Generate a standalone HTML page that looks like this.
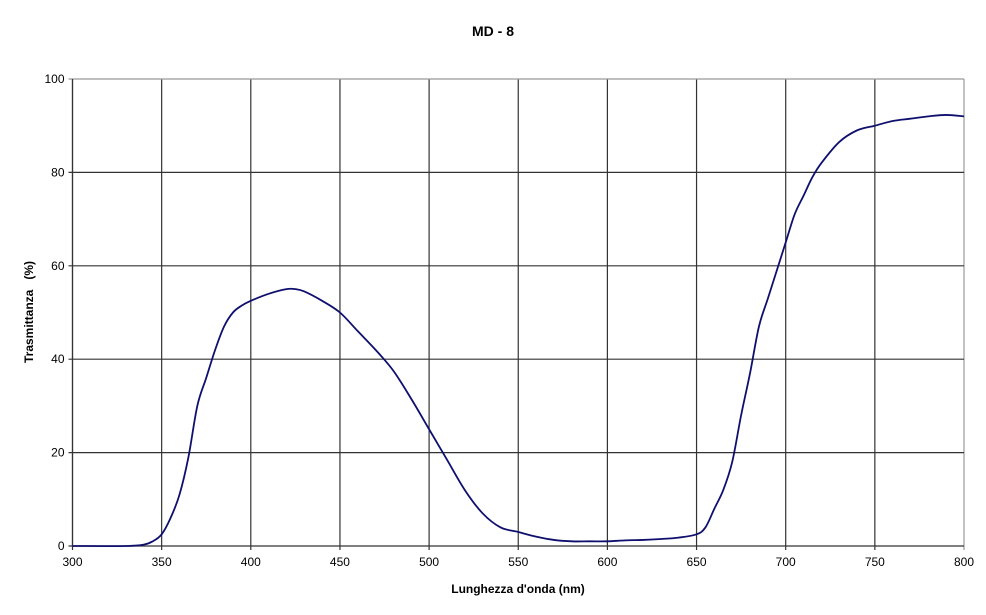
<!DOCTYPE html>
<html><head><meta charset="utf-8"><style>
body{margin:0;background:#fff}
svg{display:block;font-family:"Liberation Sans",sans-serif}
</style></head><body>
<svg width="986" height="615">
<text x="493" y="36" text-anchor="middle" font-size="14" font-weight="bold">MD - 8</text>
<g id="grid"></g>
<g id="ticks" font-size="12"></g>
<path id="line" fill="none" stroke="#0f0f6e" stroke-width="1.8"/>
<text x="518" y="593" text-anchor="middle" font-size="12" font-weight="bold">Lunghezza d'onda   (nm)</text>
<text transform="translate(33,312) rotate(-90)" text-anchor="middle" font-size="12" font-weight="bold" xml:space="preserve">Trasmittanza   (%)</text>
</svg>
<script>
const xTicks=[300,350,400,450,500,550,600,650,700,750,800];
const yTicks=[0,20,40,60,80,100];
const wavelengths=[300,330,340,345,350,355,360,365,370,375,380,385,390,395,400,410,420,425,430,440,450,460,470,480,490,500,510,520,530,540,550,560,570,580,590,600,610,620,630,640,650,655,660,665,670,675,680,685,690,695,700,705,710,715,720,730,740,750,760,770,780,790,800];
const transmittance=[0,0,0.3,1,2.5,6,11,19,30,36,42,47,50,51.5,52.5,54,55,55,54.5,52.5,50,46,42,37.5,31.5,25,18.5,12,7,4,3,2,1.3,1,1,1,1.2,1.3,1.5,1.8,2.5,4,8,12,18,28,37,47,53,59,65,71,75,79,82,86.5,89,90,91,91.5,92,92.3,92];
const L=72.5,R=964,T=79,B=546;
const xs=v=>L+(v-300)/500*(R-L), ys=v=>B-v/100*(B-T);
const ns="http://www.w3.org/2000/svg";
const g=document.getElementById('grid'),tk=document.getElementById('ticks');
function mk(p,tag,a){const e=document.createElementNS(ns,tag);for(const k in a)e.setAttribute(k,a[k]);p.appendChild(e);return e;}
xTicks.forEach(v=>{const x=xs(v);
 const l=mk(g,'line',{x1:x,x2:x,y1:T,y2:B+4,stroke:v==800?'#999':'#333','stroke-width':1.2});
 
 
 const t=mk(tk,'text',{x:x,y:B+20,'text-anchor':'middle'});t.textContent=v;
 
 });
yTicks.forEach(v=>{const y=ys(v);
 const l=mk(g,'line',{x1:L-4,x2:R,y1:y,y2:y,stroke:v==100?'#999':'#333','stroke-width':1.2});
 
 
 const t=mk(tk,'text',{x:L-8,y:y+4,'text-anchor':'end'});t.textContent=v;
 
 });
mk(g,'line',{x1:L,x2:L,y1:T,y2:B,stroke:'#333','stroke-width':1.2});
// smooth path (Catmull-Rom)
const P=wavelengths.map((w,i)=>[xs(w),ys(transmittance[i])]);
let d='M'+P[0][0]+','+P[0][1];
for(let i=0;i<P.length-1;i++){const p0=P[i-1]||P[i],p1=P[i],p2=P[i+1],p3=P[i+2]||p2;
 d+=' C'+(p1[0]+(p2[0]-p0[0])/6)+','+(p1[1]+(p2[1]-p0[1])/6)+' '+(p2[0]-(p3[0]-p1[0])/6)+','+(p2[1]-(p3[1]-p1[1])/6)+' '+p2[0]+','+p2[1];}
document.getElementById('line').setAttribute('d',d);
</script>
</body></html>
